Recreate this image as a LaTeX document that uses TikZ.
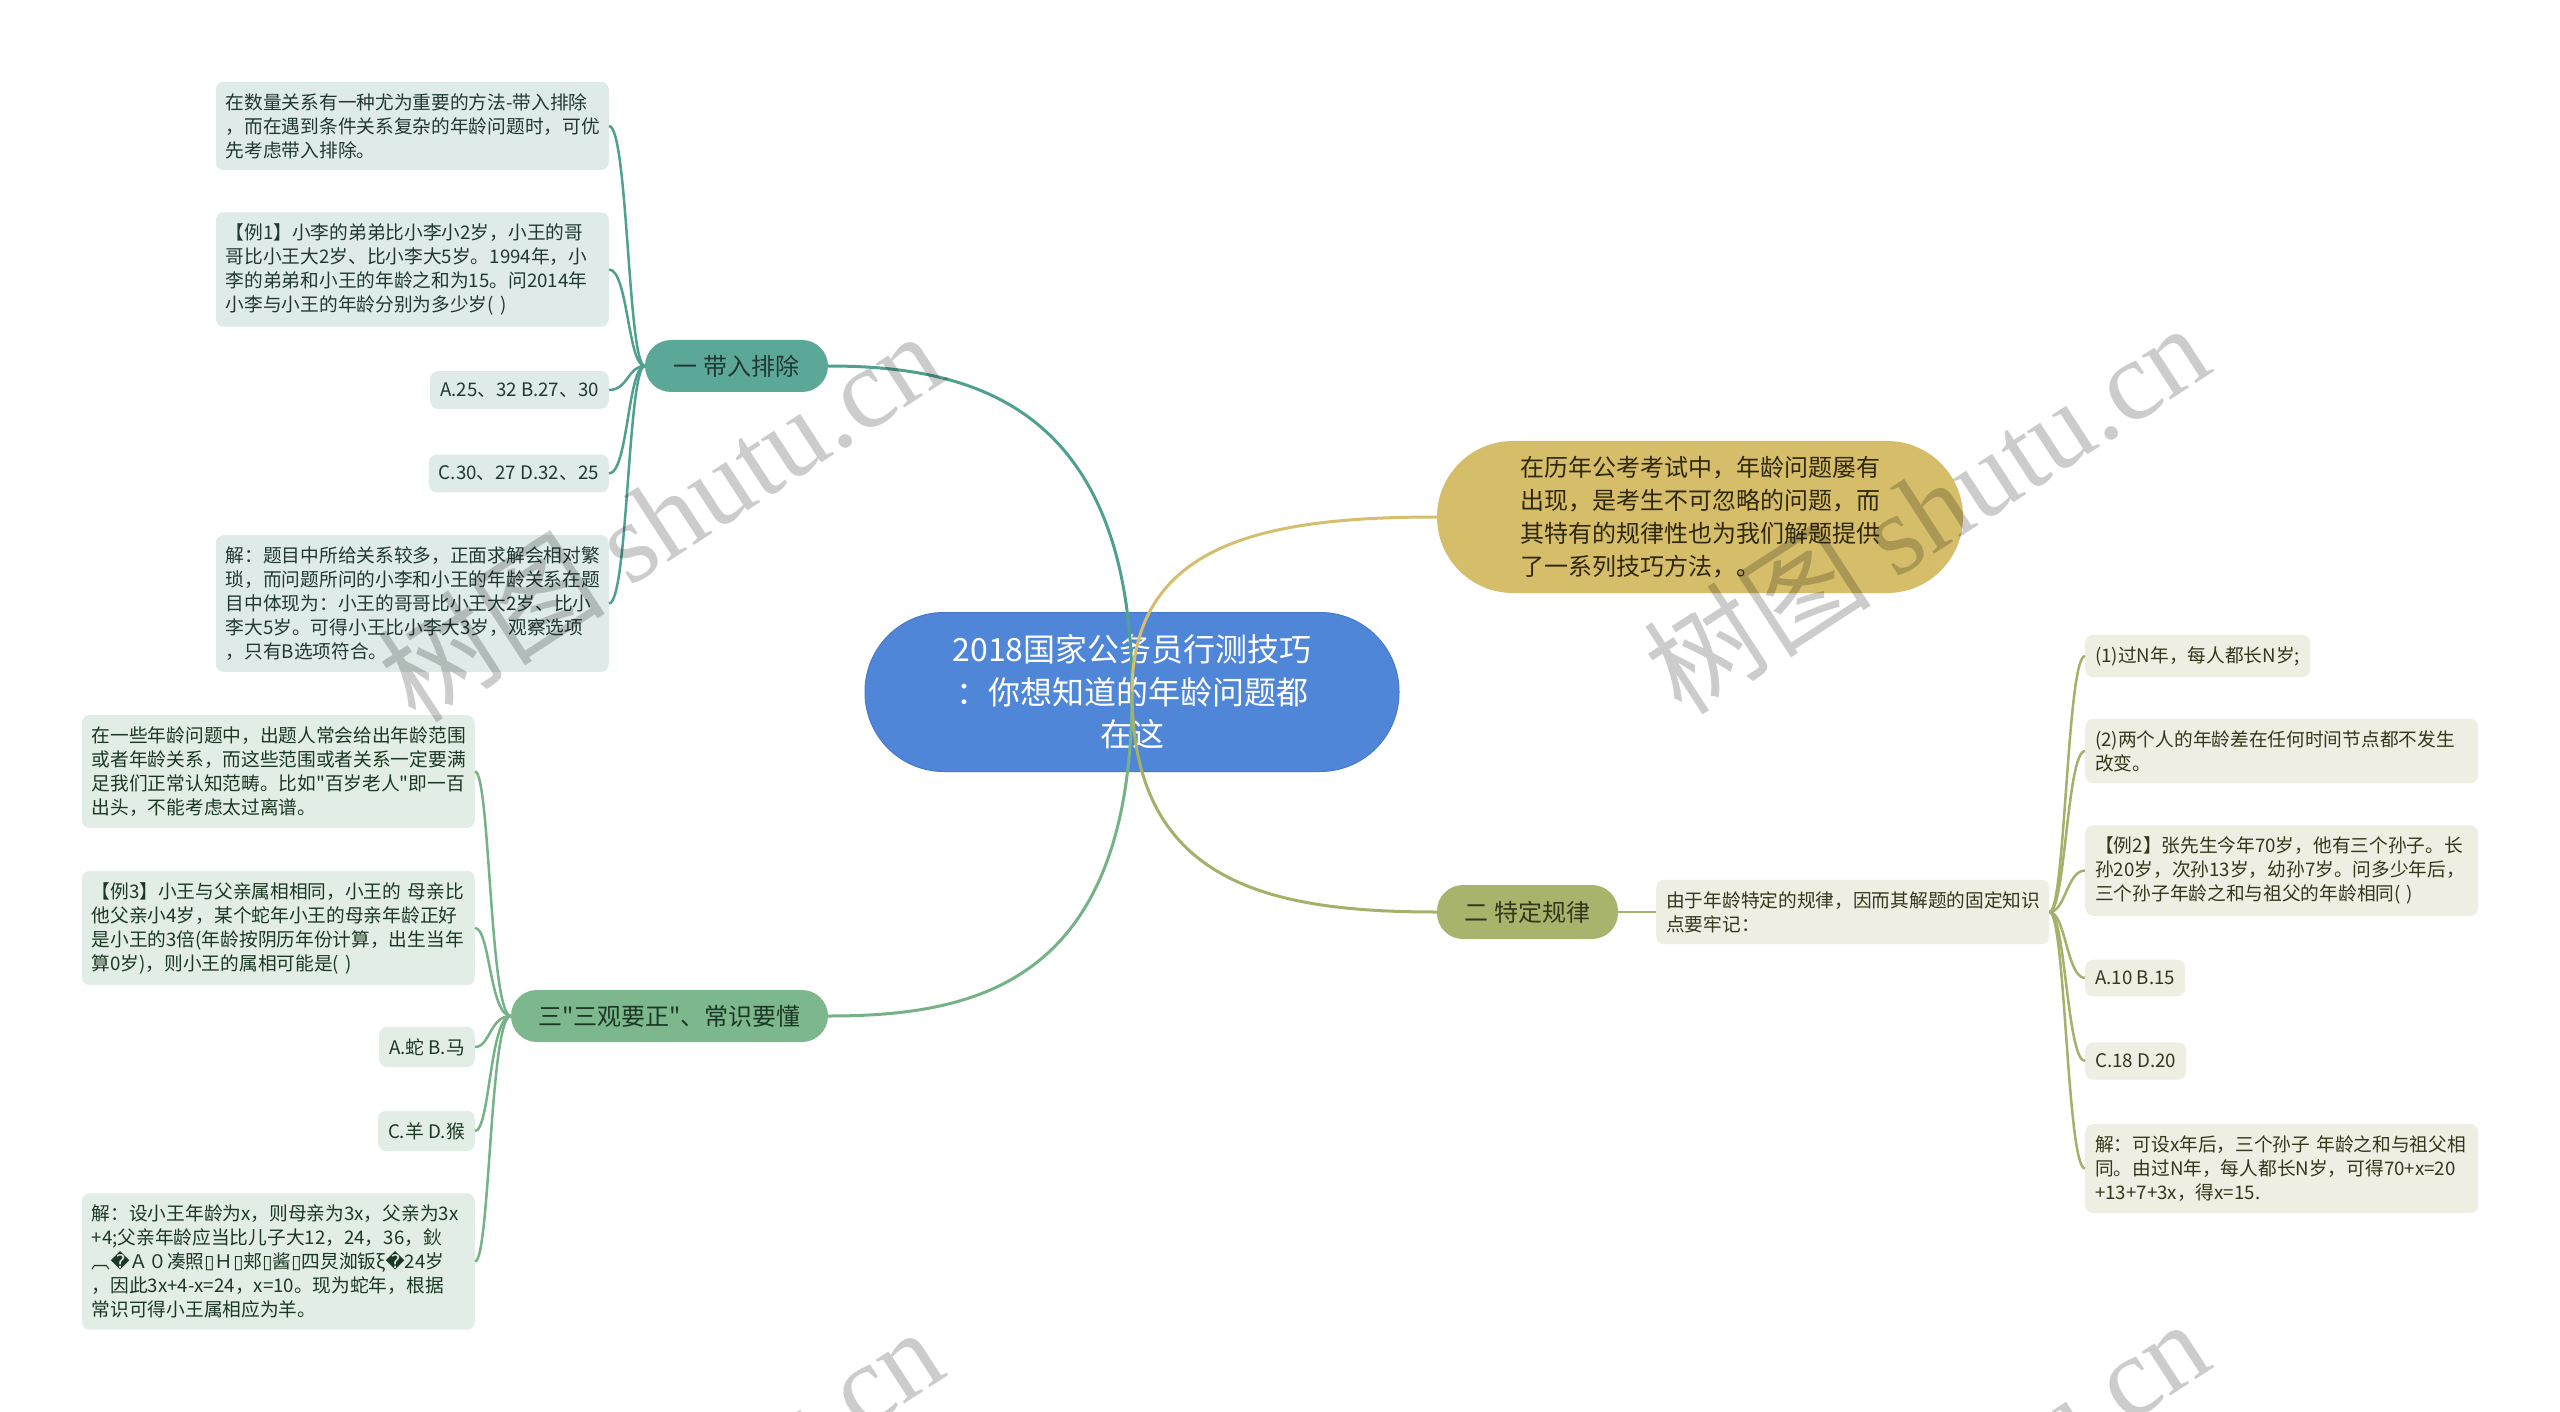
\documentclass[tikz,border=0pt]{standalone}
\usepackage{fontspec}
\setmainfont{Noto Sans CJK SC}
\newfontfamily\dejavu{DejaVu Sans}
\newfontfamily\plainq{Noto Sans CJK SC}
\newfontfamily\wmserif{Liberation Serif}
\newfontfamily\wmcjk{Noto Sans CJK SC}
\newcommand{\sq}{{\plainq"}}
\definecolor{cblue}{RGB}{79,134,216}
\definecolor{cbluedark}{RGB}{70,122,200}
\definecolor{cgold}{RGB}{213,189,106}
\definecolor{cteal}{RGB}{92,168,152}
\definecolor{cgreen}{RGB}{124,183,141}
\definecolor{colive}{RGB}{168,180,108}
\definecolor{lteal}{RGB}{222,235,232}
\definecolor{lgreen}{RGB}{226,237,229}
\definecolor{lolive}{RGB}{238,238,227}
\definecolor{tteal}{RGB}{34,56,52}
\definecolor{tgreen}{RGB}{28,56,36}
\definecolor{tolive}{RGB}{54,54,28}
\definecolor{tgold}{RGB}{48,40,12}
\definecolor{kteal}{RGB}{80,160,146}
\definecolor{kgreen}{RGB}{118,178,135}
\definecolor{kgold}{RGB}{213,190,110}
\definecolor{kolive}{RGB}{165,176,106}
\tikzset{
  rootbox/.style={fill=cblue, draw=cbluedark, line width=1pt, rounded corners=79, minimum width=534, minimum height=159, inner sep=0, align=center, text=white, font=\fontsize{32}{42.5}\selectfont},
  goldbox/.style={fill=cgold, rounded corners=76, minimum width=526, minimum height=152, inner sep=0, align=left, text=tgold, font=\fontsize{24}{33}\selectfont},
  branchbox/.style={rounded corners=26, minimum height=52, inner sep=0, font=\fontsize{24}{28}\selectfont},
  leafbox/.style={rounded corners=8, inner xsep=10, inner ysep=11.5, align=left, font=\fontsize{18.7}{24}\selectfont},
  ml/.style={text width=373},
  tleaf/.style={leafbox, fill=lteal, text=tteal, anchor=east},
  gleaf/.style={leafbox, fill=lgreen, text=tgreen, anchor=east},
  oleaf/.style={leafbox, fill=lolive, text=tolive, anchor=west},
  mainline/.style={line width=3pt},
  leafline/.style={line width=2.5pt},
  wmark/.style={rotate=33, text=black, opacity=0.2, font=\fontsize{114}{120}\selectfont}
}
\begin{document}
\begin{tikzpicture}[x=1pt,y=-1pt]
\useasboundingbox (0,0) rectangle (2560,1412);
\fill[white] (0,0) rectangle (2560,1412);

% root
\node[rootbox] (root) at (1132,692) {2018国家公务员行测技巧\\：你想知道的年龄问题都\\在这};

% main branches
\node[goldbox] (gold) at (1700,517) {在历年公考考试中，年龄问题屡有\\出现，是考生不可忽略的问题，而\\其特有的规律性也为我们解题提供\\了一系列技巧方法，。};
\node[branchbox, fill=cteal, text=tteal, minimum width=183] (b1) at (736.5,366) {一 带入排除};
\node[branchbox, fill=cgreen, text=tgreen, minimum width=317] (b3) at (669.5,1016) {三\sq 三观要正\sq 、常识要懂};
\node[branchbox, fill=colive, text=tolive, minimum width=181, minimum height=54] (b2) at (1527.5,912) {二 特定规律};

% main connectors (over the root)
\draw[mainline, kteal] (root.center) .. controls +(0,-290) and +(140,0) .. (b1.east);
\draw[mainline, kgold] (root.center) .. controls +(0,-150) and +(-170,0) .. (gold.west);
\draw[mainline, kgreen] (root.center) .. controls +(0,290) and +(150,0) .. (b3.east);
\draw[mainline, kolive] (root.center) .. controls +(0,190) and +(-170,0) .. (b2.west);

% teal leaves
\node[tleaf, ml] (t1) at (609,126) {在数量关系有一种尤为重要的方法-带入排除\\，而在遇到条件关系复杂的年龄问题时，可优\\先考虑带入排除。};
\node[tleaf, ml] (t2) at (609,269.5) {【例1】小李的弟弟比小李小2岁，小王的哥\\哥比小王大2岁、比小李大5岁。1994年，小\\李的弟弟和小王的年龄之和为15。问2014年\\小李与小王的年龄分别为多少岁(~)};
\node[tleaf] (t3) at (609,390) {A.25、32 B.27、30};
\node[tleaf] (t4) at (609,473.5) {C.30、27 D.32、25};
\node[tleaf, ml] (t5) at (609,603.5) {解：题目中所给关系较多，正面求解会相对繁\\琐，而问题所问的小李和小王的年龄关系在题\\目中体现为：小王的哥哥比小王大2岁、比小\\李大5岁。可得小王比小李大3岁，观察选项\\，只有B选项符合。};

% green leaves
\node[gleaf, ml] (g1) at (475,771.5) {在一些年龄问题中，出题人常会给出年龄范围\\或者年龄关系，而这些范围或者关系一定要满\\足我们正常认知范畴。比如\sq 百岁老人\sq 即一百\\出头，不能考虑太过离谱。};
\node[gleaf, ml] (g2) at (475,928) {【例3】小王与父亲属相相同，小王的~母亲比\\他父亲小4岁，某个蛇年小王的母亲年龄正好\\是小王的3倍(年龄按阴历年份计算，出生当年\\算0岁)，则小王的属相可能是(~)};
\node[gleaf] (g3) at (475,1047) {A.蛇 B.马};
\node[gleaf] (g4) at (475,1131) {C.羊 D.猴};
\node[gleaf, ml] (g5) at (475,1261.5) {解：设小王年龄为x，则母亲为3x，父亲为3x\\+4;父亲年龄应当比儿子大12，24，36，鈥\\︹{\dejavu �}Ａ０凑照{\dejavu ▯}Ｈ{\dejavu ▯}郏{\dejavu ▯}酱{\dejavu ▯}四炅洳钣ξ{\dejavu �}24岁\\，因此3x+4-x=24，x=10。现为蛇年，根据\\常识可得小王属相应为羊。};

% olive sub node and leaves
\node[leafbox, ml, fill=lolive, text=tolive, anchor=west] (sub) at (1656,912) {由于年龄特定的规律，因而其解题的固定知识\\点要牢记：};
\node[oleaf] (r1) at (2085,656) {(1)过N年，每人都长N岁;};
\node[oleaf, ml] (r2) at (2085,751) {(2)两个人的年龄差在任何时间节点都不发生\\改变。};
\node[oleaf, ml] (r3) at (2085,870.5) {【例2】张先生今年70岁，他有三个孙子。长\\孙20岁，次孙13岁，幼孙7岁。问多少年后，\\三个孙子年龄之和与祖父的年龄相同(~)};
\node[oleaf] (r4) at (2085,978) {A.10 B.15};
\node[oleaf] (r5) at (2085,1061) {C.18 D.20};
\node[oleaf, ml] (r6) at (2085,1168.5) {解：可设x年后，三个孙子~年龄之和与祖父相\\同。由过N年，每人都长N岁，可得70+x=20\\+13+7+3x，得x=15.};

% leaf connectors
\foreach \n in {t1,t2,t3,t4,t5}
  \draw[leafline, kteal] (b1.west) .. controls +(-17,0) and +(19,0) .. (\n.east);
\foreach \n in {g1,g2,g3,g4,g5}
  \draw[leafline, kgreen] (b3.west) .. controls +(-21,0) and +(15,0) .. (\n.east);
\draw[leafline, kolive] (b2.east) -- (sub.west);
\foreach \n in {r1,r2,r3,r4,r5,r6}
  \draw[leafline, kolive] (sub.east) .. controls +(16,0) and +(-18,0) .. (\n.west);

% watermarks
\begin{scope}
\clip (0,0) rectangle (2560,1412);
\node[wmark] (wm1) at (660,516) {{\wmcjk 树图}~{\wmserif shutu.cn}};
\node[wmark] (wm2) at (1926,508) {{\wmcjk 树图}~{\wmserif shutu.cn}};
\node[wmark] (wm3) at (660,1512) {{\wmcjk 树图}~{\wmserif shutu.cn}};
\node[wmark] (wm4) at (1926,1504) {{\wmcjk 树图}~{\wmserif shutu.cn}};
\end{scope}
\end{tikzpicture}
\end{document}
